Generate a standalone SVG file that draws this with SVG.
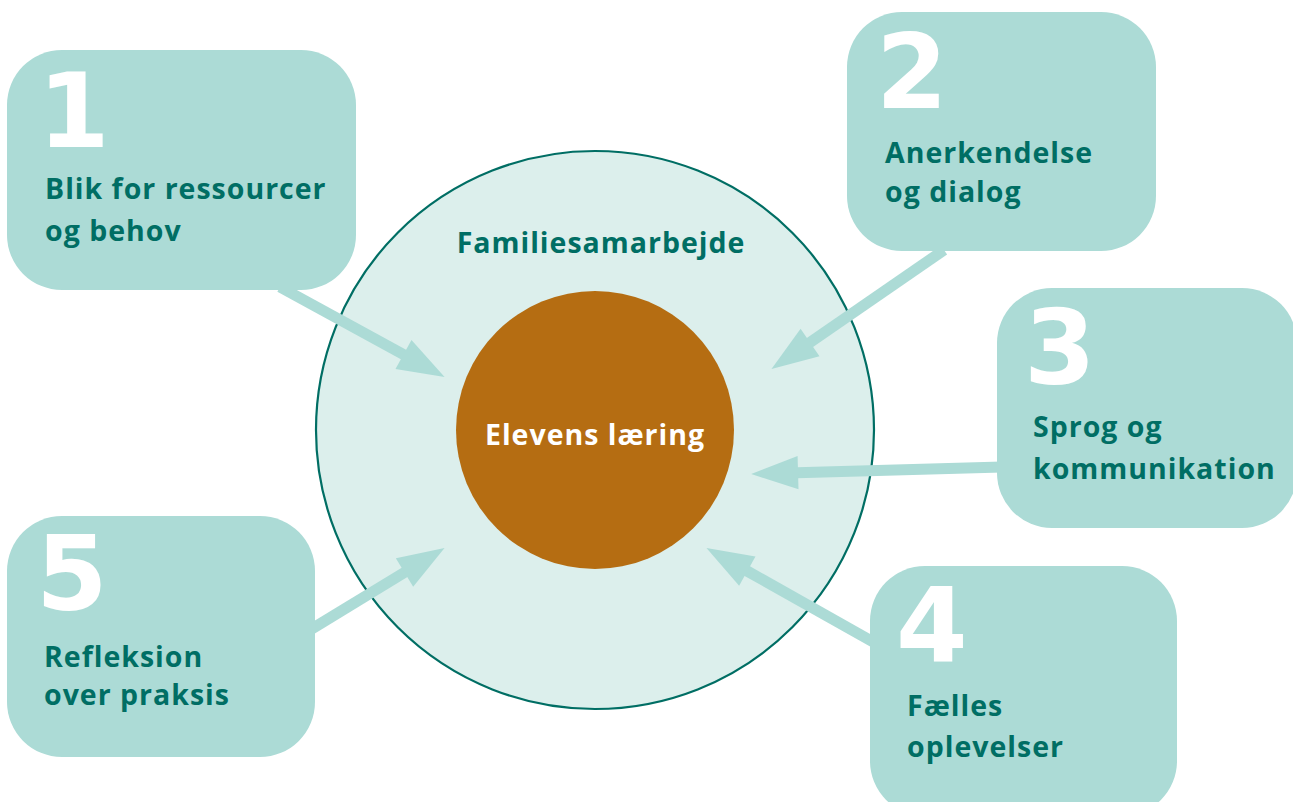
<svg xmlns="http://www.w3.org/2000/svg" width="1293" height="802" viewBox="0 0 1293 802">
<defs>
<style>
.box{fill:#acdbd6}
.num{fill:#ffffff;font-family:"DejaVu Sans","Liberation Sans",sans-serif;font-weight:700;font-size:103px}
.lbl{fill:#006e64;font-family:"Open Sans","Noto Sans",sans-serif;font-weight:700;font-size:28.5px;letter-spacing:1px}
.conn{stroke:#acdbd6;stroke-width:11;fill:none;marker-end:url(#head)}
</style>
<marker id="head" markerUnits="userSpaceOnUse" markerWidth="50" markerHeight="40" viewBox="-2 -17 48 34" refX="0" refY="0" orient="auto">
<path d="M-1,-16 L44,0 L-1,16 Z" fill="#acdbd6"/>
</marker>
</defs>
<rect width="1293" height="802" fill="#ffffff"/>
<g id="outer">
<circle cx="595" cy="430" r="279" fill="#dcefec" stroke="#006e64" stroke-width="2.2"/>
<text x="601" y="253" text-anchor="middle" class="lbl">Familiesamarbejde</text>
</g>
<g id="center">
<circle cx="595" cy="430" r="139" fill="#b56d12"/>
<text x="595" y="445" text-anchor="middle" class="lbl" style="fill:#ffffff">Elevens læring</text>
</g>
<g id="connectors">
<line class="conn" x1="280" y1="287" x2="404.4" y2="355"/>
<line class="conn" x1="944" y1="250" x2="809.2" y2="343"/>
<line class="conn" x1="1002" y1="467" x2="797" y2="472.7"/>
<line class="conn" x1="875" y1="643" x2="746.4" y2="570.6"/>
<line class="conn" x1="310" y1="630" x2="405.4" y2="571.9"/>
</g>
<g id="box1">
<rect class="box" x="7" y="50" width="349" height="240" rx="55"/>
<text x="38" y="147" class="num">1</text>
<text x="45" y="199" class="lbl">Blik for ressourcer</text>
<text x="45" y="241" class="lbl">og behov</text>
</g>
<g id="box2">
<rect class="box" x="847" y="12" width="309" height="239" rx="55"/>
<text x="876" y="108" class="num">2</text>
<text x="885" y="163" class="lbl">Anerkendelse</text>
<text x="885" y="202" class="lbl">og dialog</text>
</g>
<g id="box3">
<rect class="box" x="997" y="288" width="300" height="240" rx="55"/>
<text x="1024" y="384" class="num">3</text>
<text x="1033" y="437" class="lbl">Sprog og</text>
<text x="1033" y="479" class="lbl">kommunikation</text>
</g>
<g id="box4">
<rect class="box" x="870" y="566" width="307" height="250" rx="55"/>
<text x="896" y="662" class="num">4</text>
<text x="907" y="716" class="lbl">Fælles</text>
<text x="907" y="757" class="lbl">oplevelser</text>
</g>
<g id="box5">
<rect class="box" x="7" y="516" width="308" height="241" rx="55"/>
<text x="36" y="610" class="num">5</text>
<text x="44" y="667" class="lbl">Refleksion</text>
<text x="44" y="705" class="lbl">over praksis</text>
</g>
</svg>
